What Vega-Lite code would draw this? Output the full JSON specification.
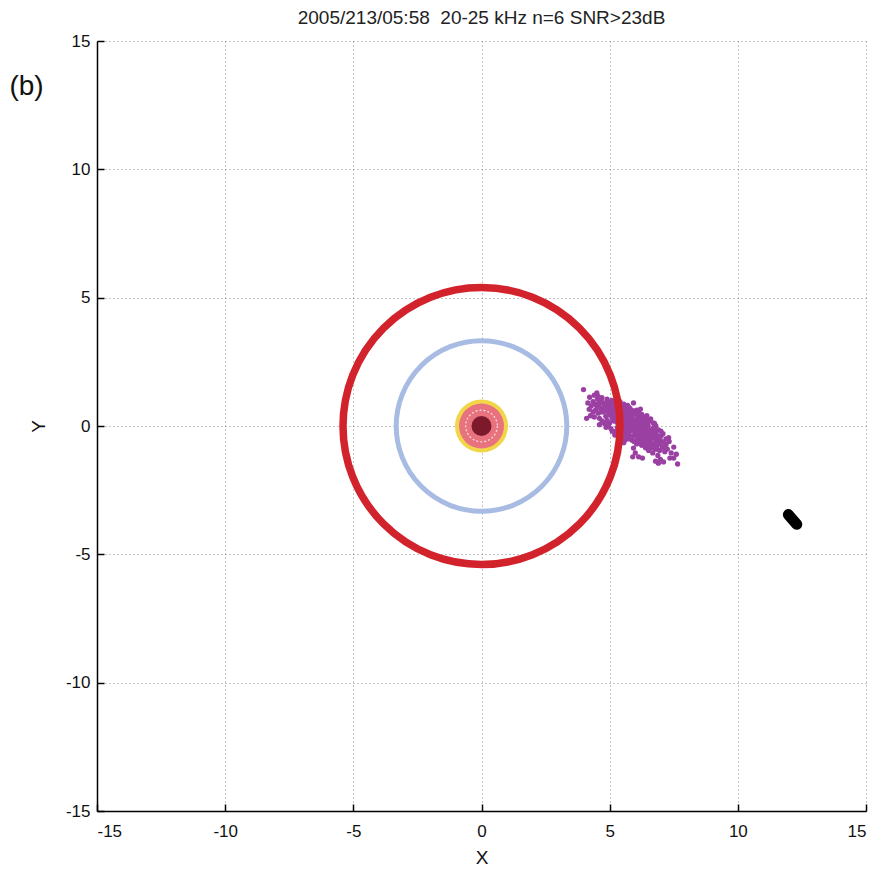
{
  "$schema": "https://vega.github.io/schema/vega-lite/v6.json",
  "autosize": "none",
  "width": 769,
  "height": 770,
  "padding": {"left": 97, "top": 41, "right": 12, "bottom": 61},
  "background": "white",
  "title": {"text": "2005/213/05:58\u00a0 20-25 kHz n=6 SNR>23dB", "font": "Liberation Sans", "fontSize": 19, "fontWeight": "normal", "color": "#222", "offset": 4, "anchor": "middle"},
  "config": {
    "view": {"stroke": null},
    "axis": {
      "domainColor": "#000", "domainWidth": 1.5,
      "tickColor": "#000", "tickWidth": 1.5,
      "grid": true, "gridDash": [1, 3], "gridColor": "#8a8a8a", "gridWidth": 1,
      "labelFont": "Liberation Sans", "labelFontSize": 17, "labelColor": "#111",
      "titleFont": "Liberation Sans", "titleFontSize": 19, "titleFontWeight": "normal", "titleColor": "#111"
    }
  },
  "datasets": {
    "cloud": [
      {"x":3.98,"y":1.42},{"x":4.22,"y":1.12},{"x":4.35,"y":0.95},{"x":4.28,"y":0.78},{"x":4.4,"y":1.2},{"x":4.45,"y":0.62},{"x":4.15,"y":0.9},
      {"x":4.52,"y":1.05},{"x":4.58,"y":0.88},{"x":4.62,"y":0.72},{"x":4.7,"y":1.1},{"x":4.75,"y":0.55},{"x":4.55,"y":0.5},{"x":4.68,"y":0.95},{"x":4.8,"y":0.82},{"x":4.72,"y":0.66},{"x":4.5,"y":0.78},{"x":4.5,"y":1.29},{"x":4.6,"y":0.3},{"x":4.85,"y":0.38},
      {"x":4.88,"y":0.92},{"x":4.92,"y":0.7},{"x":4.95,"y":0.55},{"x":5.0,"y":0.85},{"x":5.02,"y":0.42},{"x":5.05,"y":0.68},{"x":5.08,"y":1.0},{"x":5.1,"y":0.3},{"x":5.12,"y":0.58},{"x":5.15,"y":0.75},{"x":5.18,"y":0.45},{"x":4.9,"y":0.22},{"x":5.0,"y":0.12},{"x":5.2,"y":0.88},{"x":4.98,"y":0.6},{"x":5.06,"y":0.5},{"x":5.14,"y":0.2},{"x":4.86,"y":-0.05},{"x":5.2,"y":0.62},
      {"x":5.22,"y":0.35},{"x":5.25,"y":0.55},{"x":5.28,"y":0.15},{"x":5.3,"y":0.72},{"x":5.32,"y":0.42},{"x":5.35,"y":0.28},{"x":5.38,"y":0.6},{"x":5.4,"y":0.05},{"x":5.42,"y":0.48},{"x":5.45,"y":0.2},{"x":5.48,"y":0.38},{"x":5.5,"y":-0.1},{"x":5.52,"y":0.62},{"x":5.55,"y":0.3},{"x":5.58,"y":0.1},{"x":5.25,"y":-0.2},{"x":5.35,"y":0.85},{"x":5.45,"y":-0.32},{"x":5.3,"y":-0.05},{"x":5.58,"y":0.5},{"x":5.4,"y":0.7},{"x":5.5,"y":0.15},{"x":5.36,"y":0.1},{"x":5.56,"y":-0.18},{"x":5.26,"y":0.95},
      {"x":5.6,"y":0.38},{"x":5.62,"y":0.05},{"x":5.65,"y":0.25},{"x":5.68,"y":-0.12},{"x":5.7,"y":0.48},{"x":5.72,"y":0.15},{"x":5.75,"y":-0.3},{"x":5.78,"y":0.3},{"x":5.8,"y":0.02},{"x":5.82,"y":-0.18},{"x":5.85,"y":0.4},{"x":5.88,"y":0.1},{"x":5.9,"y":-0.4},{"x":5.92,"y":-0.05},{"x":5.95,"y":0.22},{"x":5.98,"y":-0.25},{"x":5.64,"y":-0.42},{"x":5.74,"y":0.62},{"x":5.86,"y":-0.55},{"x":5.66,"y":0.55},{"x":5.94,"y":0.45},{"x":5.7,"y":-0.05},{"x":5.84,"y":0.2},{"x":5.96,"y":-0.1},{"x":5.76,"y":0.05},{"x":5.9,"y":0.12},{"x":5.68,"y":0.3},{"x":5.93,"y":0.9},
      {"x":6.0,"y":0.05},{"x":6.02,"y":-0.35},{"x":6.05,"y":0.28},{"x":6.08,"y":-0.15},{"x":6.1,"y":-0.5},{"x":6.12,"y":0.1},{"x":6.15,"y":-0.28},{"x":6.18,"y":0.35},{"x":6.2,"y":-0.05},{"x":6.22,"y":-0.6},{"x":6.25,"y":-0.2},{"x":6.28,"y":0.15},{"x":6.3,"y":-0.42},{"x":6.32,"y":-0.1},{"x":6.35,"y":-0.3},{"x":6.38,"y":0.05},{"x":6.05,"y":-0.7},{"x":6.15,"y":0.5},{"x":6.25,"y":-0.75},{"x":6.35,"y":-0.55},{"x":6.08,"y":0.15},{"x":6.2,"y":-0.35},{"x":6.3,"y":0.22},{"x":6.12,"y":-0.45},{"x":6.4,"y":-0.15},{"x":6.02,"y":-0.05},{"x":6.2,"y":0.66},
      {"x":6.42,"y":-0.45},{"x":6.45,"y":-0.2},{"x":6.48,"y":-0.65},{"x":6.5,"y":0.0},{"x":6.55,"y":-0.38},{"x":6.58,"y":-0.8},{"x":6.6,"y":-0.15},{"x":6.62,"y":-0.52},{"x":6.65,"y":-0.3},{"x":6.7,"y":-0.7},{"x":6.72,"y":-0.05},{"x":6.75,"y":-0.45},{"x":6.78,"y":-0.9},{"x":6.44,"y":0.25},{"x":6.52,"y":-0.95},{"x":6.68,"y":-1.05},{"x":6.8,"y":-0.6},{"x":6.5,"y":-0.55},{"x":6.64,"y":-0.2},{"x":6.4,"y":-0.85},
      {"x":6.82,"y":-0.35},{"x":6.85,"y":-0.75},{"x":6.9,"y":-0.55},{"x":6.95,"y":-0.95},{"x":7.0,"y":-0.4},{"x":7.05,"y":-0.8},{"x":7.1,"y":-0.62},{"x":7.15,"y":-1.0},{"x":6.88,"y":-1.15},{"x":7.2,"y":-0.72},{"x":6.98,"y":-1.3},{"x":7.08,"y":-0.3},
      {"x":7.25,"y":-0.9},{"x":7.32,"y":-0.6},{"x":7.4,"y":-1.05},{"x":7.5,"y":-0.82},{"x":7.65,"y":-1.48},{"x":7.35,"y":-1.25},{"x":6.28,"y":-1.25},{"x":6.0,"y":-1.05},{"x":5.93,"y":-0.86},{"x":6.79,"y":-1.37},{"x":5.9,"y":-1.2},{"x":6.9,"y":-1.45},{"x":5.55,"y":-0.65},
      {"x":5.3,"y":0.88},{"x":5.45,"y":0.78},{"x":5.6,"y":0.7},{"x":5.7,"y":0.8},{"x":5.8,"y":0.68},{"x":5.9,"y":0.6},{"x":6.0,"y":0.55},{"x":6.1,"y":0.42},{"x":6.25,"y":0.45},{"x":6.35,"y":0.35},{"x":6.45,"y":0.4},{"x":6.55,"y":0.2},{"x":6.6,"y":0.28},{"x":6.7,"y":0.12},{"x":6.8,"y":0.0},{"x":6.9,"y":-0.15},{"x":7.0,"y":-0.2},{"x":5.55,"y":0.85},{"x":5.75,"y":0.72},{"x":6.05,"y":0.62},{"x":5.15,"y":0.95},{"x":5.85,"y":0.52},{"x":6.15,"y":0.3},{"x":6.5,"y":0.15},{"x":6.75,"y":0.1},
      {"x":5.1,"y":-0.2},{"x":5.2,"y":-0.35},{"x":5.35,"y":-0.45},{"x":5.5,"y":-0.38},{"x":5.6,"y":-0.55},{"x":5.72,"y":-0.5},{"x":5.8,"y":-0.4},{"x":5.95,"y":-0.6},{"x":6.05,"y":-0.55},{"x":6.15,"y":-0.65},{"x":6.3,"y":-0.68},{"x":6.45,"y":-0.75},{"x":6.55,"y":-0.62},{"x":6.65,"y":-0.85},{"x":6.75,"y":-0.75},{"x":6.85,"y":-0.9},{"x":6.95,"y":-0.7},{"x":7.1,"y":-0.85},{"x":7.2,"y":-0.5},{"x":7.3,"y":-0.45},{"x":4.8,"y":0.1},{"x":4.7,"y":0.2},{"x":4.95,"y":0.0},{"x":5.05,"y":-0.1},{"x":4.6,"y":0.05},
      {"x":5.2,"y":0.2},{"x":5.3,"y":0.3},{"x":5.45,"y":0.05},{"x":5.6,"y":0.15},{"x":5.65,"y":-0.25},{"x":5.8,"y":-0.1},{"x":5.85,"y":0.3},{"x":6.0,"y":-0.2},{"x":6.1,"y":0.2},{"x":6.2,"y":0.1},{"x":6.3,"y":0.0},{"x":6.4,"y":-0.35},{"x":6.5,"y":-0.3},{"x":6.6,"y":-0.4},{"x":6.7,"y":-0.25},{"x":6.8,"y":-0.2},{"x":6.9,"y":-0.4},{"x":7.0,"y":-0.6},{"x":6.25,"y":-0.45},{"x":6.1,"y":-0.1},{"x":5.95,"y":0.0},{"x":5.55,"y":0.0},{"x":5.25,"y":0.45},{"x":4.85,"y":0.6},{"x":4.75,"y":0.9},{"x":4.65,"y":0.55},{"x":4.45,"y":0.85},{"x":4.35,"y":0.55},{"x":4.25,"y":0.4},{"x":4.4,"y":0.35},{"x":4.2,"y":0.65},{"x":4.55,"y":1.15},{"x":4.9,"y":1.05},{"x":5.05,"y":0.9},{"x":5.4,"y":0.95},{"x":4.85,"y":0.8},
      {"x":4.1,"y":0.3},{"x":7.5,"y":-1.25},{"x":7.1,"y":-1.4},{"x":6.13,"y":-1.2},{"x":7.6,"y":-1.1}
    ],
    "origin": [{"x": 0, "y": 0}],
    "blob": [{"x": 11.97, "y": -3.45}, {"x": 12.3, "y": -3.83}],
    "label": [{"x": -17.75, "y": 13.2, "t": "(b)"}]
  },
  "layer": [
    {
      "data": {"name": "cloud"},
      "mark": {"type": "point", "filled": true, "shape": "circle", "size": 28, "color": "#9b40a3", "opacity": 1},
      "encoding": {
        "x": {"field": "x", "type": "quantitative", "scale": {"domain": [-15, 15], "nice": false, "zero": false},
              "axis": {"title": "X", "values": [-15, -10, -5, 0, 5, 10, 15], "tickSize": -7, "labelPadding": 19, "titlePadding": 9, "labelExpr": "replace(datum.label, '\u2212', '-')"}},
        "y": {"field": "y", "type": "quantitative", "scale": {"domain": [-15, 15], "nice": false, "zero": false},
              "axis": {"title": "Y", "values": [-15, -10, -5, 0, 5, 10, 15], "tickSize": -7, "labelPadding": 14, "titlePadding": 17, "labelExpr": "replace(datum.label, '\u2212', '-')"}}
      }
    },
    {
      "data": {"name": "origin"},
      "mark": {"type": "point", "shape": "circle", "size": 29100, "stroke": "#a8bce3", "strokeWidth": 5, "filled": false, "opacity": 1},
      "encoding": {"x": {"field": "x", "type": "quantitative"}, "y": {"field": "y", "type": "quantitative"}}
    },
    {
      "data": {"name": "origin"},
      "mark": {"type": "point", "shape": "circle", "size": 76729, "stroke": "#d2232c", "strokeWidth": 7.5, "filled": false, "opacity": 1},
      "encoding": {"x": {"field": "x", "type": "quantitative"}, "y": {"field": "y", "type": "quantitative"}}
    },
    {
      "data": {"name": "origin"},
      "mark": {"type": "point", "shape": "circle", "size": 2809, "fill": "#f2d64a", "filled": true, "opacity": 1},
      "encoding": {"x": {"field": "x", "type": "quantitative"}, "y": {"field": "y", "type": "quantitative"}}
    },
    {
      "data": {"name": "origin"},
      "mark": {"type": "point", "shape": "circle", "size": 2025, "fill": "#e8727e", "filled": true, "opacity": 1},
      "encoding": {"x": {"field": "x", "type": "quantitative"}, "y": {"field": "y", "type": "quantitative"}}
    },
    {
      "data": {"name": "origin"},
      "mark": {"type": "point", "shape": "circle", "size": 1000, "stroke": "#ffffff", "strokeWidth": 1.2, "strokeDash": [2, 2], "filled": false, "opacity": 0.8},
      "encoding": {"x": {"field": "x", "type": "quantitative"}, "y": {"field": "y", "type": "quantitative"}}
    },
    {
      "data": {"name": "origin"},
      "mark": {"type": "point", "shape": "circle", "size": 400, "fill": "#7c1a2c", "filled": true, "opacity": 1},
      "encoding": {"x": {"field": "x", "type": "quantitative"}, "y": {"field": "y", "type": "quantitative"}}
    },
    {
      "data": {"name": "blob"},
      "mark": {"type": "line", "color": "#000", "strokeWidth": 11, "strokeCap": "round"},
      "encoding": {"x": {"field": "x", "type": "quantitative"}, "y": {"field": "y", "type": "quantitative"}}
    },
    {
      "data": {"name": "label"},
      "mark": {"type": "text", "font": "Liberation Sans", "fontSize": 28, "color": "#111", "align": "center", "baseline": "middle"},
      "encoding": {"x": {"field": "x", "type": "quantitative"}, "y": {"field": "y", "type": "quantitative"}, "text": {"field": "t"}}
    }
  ]
}
